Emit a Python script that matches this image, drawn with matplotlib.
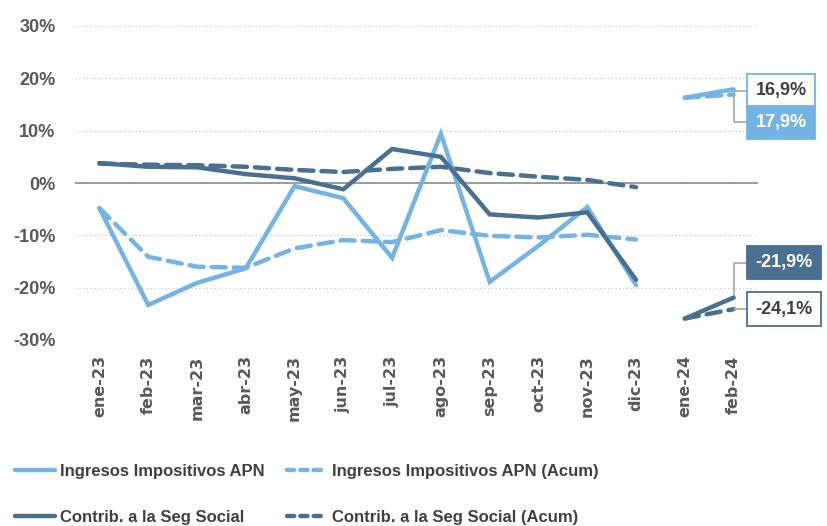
import numpy as np
import matplotlib
matplotlib.use('Agg')
from matplotlib import pyplot as plt
from matplotlib.lines import Line2D

# data (% interanual)
meses = ['ene-23', 'feb-23', 'mar-23', 'abr-23', 'may-23', 'jun-23', 'jul-23',
         'ago-23', 'sep-23', 'oct-23', 'nov-23', 'dic-23', 'ene-24', 'feb-24']
ingresos = [-4.8, -23.3, -19.1, -16.3, -0.6, -2.9, -14.3,
            9.4, -18.9, -12.0, -4.6, -19.5, 16.3, 17.9]
ingresos_acum = [-4.8, -14.1, -16.0, -16.2, -12.5, -10.9, -11.3,
                 -9.0, -10.1, -10.4, -9.9, -10.8, 16.3, 16.9]
contrib = [3.8, 3.1, 3.0, 1.7, 0.9, -1.2, 6.5,
           5.0, -6.0, -6.6, -5.6, -18.5, -25.9, -21.9]
contrib_acum = [3.7, 3.5, 3.4, 3.1, 2.5, 2.1, 2.7,
                3.1, 1.9, 1.2, 0.6, -0.8, -25.9, -24.1]

CELESTE = '#74B4E4'
AZUL = '#4A7091'
GRIS = '#595959'
LW = 3.2
DASH = (3.2, 1.8)

plt.rcParams['font.family'] = ['Liberation Sans', 'DejaVu Sans']

fig = plt.figure(figsize=(8.28, 5.26), dpi=100)
ax = fig.add_axes([75/828, 1-340/526, (758-75)/828, (340-26)/526])

x = np.arange(len(meses))
tramos = [slice(0, 12), slice(12, 14)]  # corte entre dic-23 y ene-24

for s in tramos:
    ax.plot(x[s], ingresos_acum[s], color=CELESTE, lw=LW, dashes=DASH,
            dash_capstyle='round', solid_capstyle='round', zorder=3)
    ax.plot(x[s], contrib_acum[s], color=AZUL, lw=LW, dashes=DASH,
            dash_capstyle='round', solid_capstyle='round', zorder=3)
    ax.plot(x[s], ingresos[s], color=CELESTE, lw=LW, solid_capstyle='round',
            solid_joinstyle='miter', zorder=4)
    ax.plot(x[s], contrib[s], color=AZUL, lw=LW, solid_capstyle='round',
            solid_joinstyle='miter', zorder=5)

ax.set_xlim(-0.5, len(meses) - 0.5)
ax.set_ylim(-30, 30)
ax.set_yticks(np.arange(-30, 31, 10))
ax.set_yticklabels([f'{v}%' for v in range(-30, 31, 10)])
ax.set_xticks(x)
ax.set_xticklabels(meses, rotation=90, family='DejaVu Sans')
ax.tick_params(length=0, colors=GRIS, labelsize=11.5)
ax.tick_params(axis='y', pad=14, labelsize=13)
for lab in ax.get_xticklabels() + ax.get_yticklabels():
    lab.set_fontweight('bold')
ax.tick_params(axis='x', pad=11)

ax.grid(axis='y', ls=(0, (1, 2)), color='#C8C8C8', lw=0.9)
ax.axhline(0, color='#8C8C8C', lw=1.2, zorder=2)
for sp in ax.spines.values():
    sp.set_visible(False)

# etiquetas de feb-24
def etiqueta(yv, ybox, texto, fill, edge, tcolor):
    ax.annotate(texto, xy=(13, yv), xytext=(13.45, ybox),
                ha='left', va='center', fontsize=13, fontweight='bold',
                color=tcolor, annotation_clip=False,
                bbox=dict(boxstyle='square,pad=0.45', fc=fill, ec=edge, lw=1.3),
                arrowprops=dict(arrowstyle='-', color='#A6A6A6', lw=1.2,
                                connectionstyle='angle,angleA=0,angleB=90,rad=0',
                                shrinkA=0, shrinkB=0))

etiqueta(ingresos_acum[13], 17.6, '16,9%', 'white', CELESTE, '#404040')
etiqueta(ingresos[13], 11.6, '17,9%', CELESTE, CELESTE, 'white')
etiqueta(contrib[13], -15.2, '-21,9%', AZUL, AZUL, 'white')
etiqueta(contrib_acum[13], -24.1, '-24,1%', 'white', AZUL, '#404040')

# leyenda
h1 = [Line2D([], [], color=CELESTE, lw=LW, solid_capstyle='round'),
      Line2D([], [], color=AZUL, lw=LW, solid_capstyle='round')]
h2 = [Line2D([], [], color=CELESTE, lw=LW, dashes=(1.6, 1.4), dash_capstyle='round'),
      Line2D([], [], color=AZUL, lw=LW, dashes=(1.6, 1.4), dash_capstyle='round')]
kw = dict(frameon=False, fontsize=12, handlelength=2.4, handletextpad=0.3,
          labelspacing=1.85, labelcolor='#404040', borderpad=0, borderaxespad=0)
leg1 = fig.legend(h1, ['Ingresos Impositivos APN', 'Contrib. a la Seg Social'],
                  loc='upper left', bbox_to_anchor=(15/828, 1-464/526), **kw)
leg2 = fig.legend(h2, ['Ingresos Impositivos APN (Acum)', 'Contrib. a la Seg Social (Acum)'],
                  loc='upper left', bbox_to_anchor=(287/828, 1-464/526), **kw)
for lg in (leg1, leg2):
    for t in lg.get_texts():
        t.set_fontweight('bold')

fig.savefig('out.png', dpi=100)
